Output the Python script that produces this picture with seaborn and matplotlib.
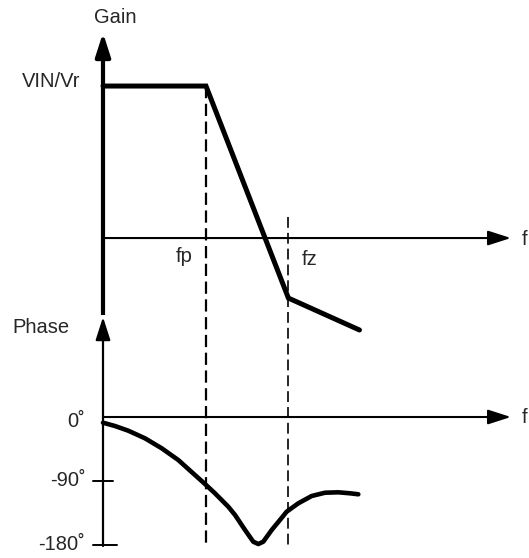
import numpy as np
import pandas as pd
import seaborn as sns
import matplotlib
matplotlib.use("Agg")
import matplotlib.pyplot as plt

# frequency axis in sketch units (origin = 0, fp = 1)
fp = 1.0
fz = 1.8

# gain asymptotes (1 = VIN/Vr level, 0 = gain f-axis)
gain_f = [0.0, fp, fz, 2.49]
gain_val = [1.0, 1.0, -0.395, -0.605]

# phase curve in degrees
phase_f = [0.0, 0.117, 0.246, 0.408, 0.570, 0.731, 0.893, 0.990, 1.087, 1.216,
           1.282, 1.379, 1.459, 1.508, 1.556, 1.638, 1.718, 1.783, 1.896, 2.026,
           2.155, 2.284, 2.398, 2.479]
phase_deg = [-8.0, -12.7, -19.3, -30.0, -44.0, -60.5, -81.6, -94.2, -107.3, -126.1,
             -137.8, -158.9, -175.4, -178.6, -175.4, -158.9, -144.8, -133.2, -121.4, -111.1,
             -106.5, -105.9, -107.3, -108.7]

phase_ticks = [-90, -180]
phase_tick_labels = ["-90˚", "-180˚"]

sns.set_theme(style="white")
plt.rcParams["font.family"] = ["Liberation Sans", "DejaVu Sans"]

fig = plt.figure(figsize=(5.29, 5.58), dpi=100)
ax_g = fig.add_axes([0, 0, 1, 1])
ax_p = fig.add_axes([0, 0, 1, 1], sharex=ax_g)
for ax in (ax_g, ax_p):
    ax.set_axis_off()
    ax.patch.set_alpha(0)
ax_g.set_xlim(-1.0, 4.136)
ax_g.set_ylim(-2.105, 1.566)
ax_p.set_ylim(-198.3, 586.5)

def arrow(ax, start, tip, lw):
    ax.annotate("", xy=tip, xytext=start,
                arrowprops=dict(arrowstyle="-|>,head_length=14,head_width=4.5",
                                mutation_scale=1, lw=lw, color="black",
                                shrinkA=0, shrinkB=0))

# axes of the sketch
ax_g.plot([0, 0], [-0.507, 1.2], color="black", lw=3.0, solid_capstyle="butt")
arrow(ax_g, (0, 1.2), (0, 1.35), 3.0)
arrow(ax_g, (0, 0), (3.96, 0), 1.5)
ax_p.plot([0, 0], [-181, 120], color="black", lw=1.6)
arrow(ax_p, (0, 120), (0, 140.6), 1.6)
arrow(ax_p, (0, 0), (3.96, 0), 1.5)
ax_p.plot([-0.1, 0.1], [-90, -90], color="black", lw=1.4)
ax_p.plot([-0.1, 0.14], [-180, -180], color="black", lw=1.4)

# fp / fz guide lines
ax_g.plot([fp, fp], [1.0, -2.04], color="black", lw=1.6, ls=(0, (5.5, 2.5)))
ax_g.plot([fz, fz], [0.14, -2.04], color="black", lw=1.2, ls=(0, (6.5, 3)))

# curves
sns.lineplot(x=gain_f, y=gain_val, ax=ax_g, color="black", lw=3.6,
             sort=False, estimator=None, solid_joinstyle="miter")
sns.lineplot(x=phase_f, y=phase_deg, ax=ax_p, color="black", lw=3.3,
             sort=False, estimator=None, solid_joinstyle="round",
             solid_capstyle="round")

fs = 14.5
ax_g.text(0.12, 1.452, "Gain", fontsize=fs, ha="center", va="center")
ax_g.text(-0.22, 1.03, "VIN/Vr", fontsize=fs, ha="right", va="center")
ax_g.text(0.79, -0.12, "fp", fontsize=fs, ha="center", va="center")
ax_g.text(2.01, -0.14, "fz", fontsize=fs, ha="center", va="center")
ax_g.text(4.07, -0.01, "f", fontsize=fs, ha="left", va="center")
ax_p.text(-0.6, 126, "Phase", fontsize=fs, ha="center", va="center")
ax_p.text(4.07, 0, "f", fontsize=fs, ha="left", va="center")
ax_p.text(-0.17, -7, "0˚", fontsize=fs, ha="right", va="center")
for t, lab in zip(phase_ticks, phase_tick_labels):
    ax_p.text(-0.17, t, lab, fontsize=fs, ha="right", va="center")

fig.savefig("out.png", dpi=100, facecolor="white")
